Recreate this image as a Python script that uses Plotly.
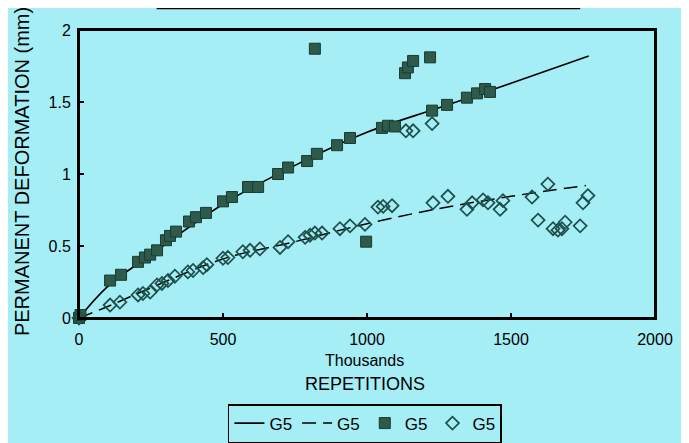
import plotly.graph_objects as go

# ---- data (thousands of repetitions, permanent deformation in mm) ----
sq_x = [0, 5, 108, 146, 205, 229, 247, 271, 302, 316, 337, 382, 406, 441, 500, 531,
        587, 622, 691, 726, 792, 826, 896, 941, 1052, 1073, 1097, 1226, 1278, 1347,
        1382, 1410, 1427, 819, 1132, 1142, 1160, 1219, 997]
sq_y = [0.0, 0.02, 0.26, 0.30, 0.39, 0.42, 0.44, 0.47, 0.54, 0.57, 0.60, 0.67, 0.70,
        0.73, 0.81, 0.84, 0.91, 0.91, 1.00, 1.045, 1.09, 1.14, 1.20, 1.25, 1.32, 1.335,
        1.33, 1.44, 1.48, 1.53, 1.56, 1.59, 1.57, 1.87, 1.70, 1.74, 1.785, 1.81, 0.53]

di_x = [0, 108, 142, 205, 222, 247, 271, 288, 309, 333, 378, 396, 431, 444, 500, 517,
        569, 594, 628, 698, 726, 785, 802, 819, 844, 906, 941, 993, 1038, 1056, 1087,
        1135, 1160, 1226, 1229, 1281, 1347, 1365, 1403, 1420, 1462, 1472, 1573, 1628,
        1594, 1646, 1663, 1677, 1688, 1740, 1750, 1767]
di_y = [0.0, 0.09, 0.11, 0.16, 0.17, 0.18, 0.23, 0.24, 0.26, 0.29, 0.32, 0.33, 0.35,
        0.37, 0.415, 0.42, 0.46, 0.47, 0.48, 0.49, 0.53, 0.56, 0.575, 0.59, 0.59, 0.62,
        0.64, 0.65, 0.77, 0.775, 0.78, 1.30, 1.30, 1.35, 0.80, 0.845, 0.755, 0.80, 0.82,
        0.80, 0.755, 0.815, 0.84, 0.93, 0.68, 0.62, 0.61, 0.62, 0.665, 0.64, 0.80, 0.85]

fit1_x = [0, 100, 250, 500, 750, 1000, 1250, 1500, 1770]
fit1_y = [0.0, 0.22, 0.44, 0.79, 1.06, 1.29, 1.46, 1.63, 1.82]

fit2_x = [0, 100, 250, 500, 750, 1000, 1250, 1500, 1760]
fit2_y = [0.0, 0.08, 0.21, 0.41, 0.53, 0.655, 0.76, 0.845, 0.92]

x_ticks = [0, 500, 1000, 1500, 2000]
y_ticks = [0, 0.5, 1, 1.5, 2]
y_tick_text = ["0", "0.5", "1", "1.5", "2"]

BG = "#a5eef6"
FONT = "Liberation Sans, Arial, sans-serif"

fig = go.Figure()
fig.add_trace(go.Scatter(x=fit1_x, y=fit1_y, mode="lines", name="G5",
                         line=dict(color="black", width=1.6, shape="spline")))
fig.add_trace(go.Scatter(x=fit2_x, y=fit2_y, mode="lines", name="G5",
                         line=dict(color="black", width=1.5, shape="spline", dash="14px,7px")))
fig.add_trace(go.Scatter(x=sq_x, y=sq_y, mode="markers", name="G5", cliponaxis=False,
                         marker=dict(symbol="square", size=11, color="#2d5a4b",
                                     line=dict(color="#1c3a30", width=1))))
fig.add_trace(go.Scatter(x=di_x, y=di_y, mode="markers", name="G5", cliponaxis=False,
                         marker=dict(symbol="diamond-open", size=10, color="#1f4f4a",
                                     line=dict(width=1.7))))

fig.update_layout(
    width=689, height=443, autosize=False,
    margin=dict(l=71, r=42, t=22, b=133, autoexpand=False),
    paper_bgcolor=BG, plot_bgcolor=BG,
    font=dict(family=FONT, color="black", size=16),
    showlegend=True,
    legend=dict(orientation="h", x=0.518, xanchor="center", xref="container",
                y=0.106, yanchor="top", yref="container",
                bgcolor=BG, bordercolor="black", borderwidth=1.5,
                font=dict(size=17, family=FONT), itemwidth=30),
    xaxis=dict(range=[0, 2000], tickvals=x_ticks, ticks="inside", ticklen=5,
               tickwidth=1.5, tickcolor="black", showgrid=False, zeroline=False,
               showline=True, linecolor="black", linewidth=2, mirror=True,
               tickfont=dict(size=16), automargin=False, ticklabelstandoff=6),
    yaxis=dict(range=[0, 2], tickvals=y_ticks, ticktext=y_tick_text, ticks="inside",
               ticklen=5, tickwidth=1.5, tickcolor="black", showgrid=False,
               zeroline=False, showline=True, linecolor="black", linewidth=2,
               mirror=True, tickfont=dict(size=16), automargin=False,
               ticklabelstandoff=3),
    annotations=[
        dict(text="Thousands", x=0.4965, y=-0.149, xref="paper", yref="paper",
             showarrow=False, xanchor="center", yanchor="middle", font=dict(size=16)),
        dict(text="REPETITIONS", x=0.4965, y=-0.229, xref="paper", yref="paper",
             showarrow=False, xanchor="center", yanchor="middle", font=dict(size=18)),
        dict(text="PERMANENT DEFORMATION (mm)", x=-0.099, y=0.51, xref="paper",
             yref="paper", showarrow=False, xanchor="center", yanchor="middle",
             textangle=-90, font=dict(size=20)),
    ],
    shapes=[
        dict(type="rect", xref="paper", yref="paper", x0=0, x1=1, y0=0, y1=1,
             layer="above", line=dict(color="black", width=2)),
        dict(type="rect", xref="paper", yref="paper", x0=0.137, x1=0.868, y0=1.076,
             y1=1.15, line=dict(color="black", width=2.5)),
        dict(type="line", xref="paper", yref="paper", x0=1.047, x1=1.047, y0=-0.4,
             y1=1.1, line=dict(color="rgba(90,110,110,0.45)", width=1, dash="dot")),
    ],
)

fig.write_html("out.html")
